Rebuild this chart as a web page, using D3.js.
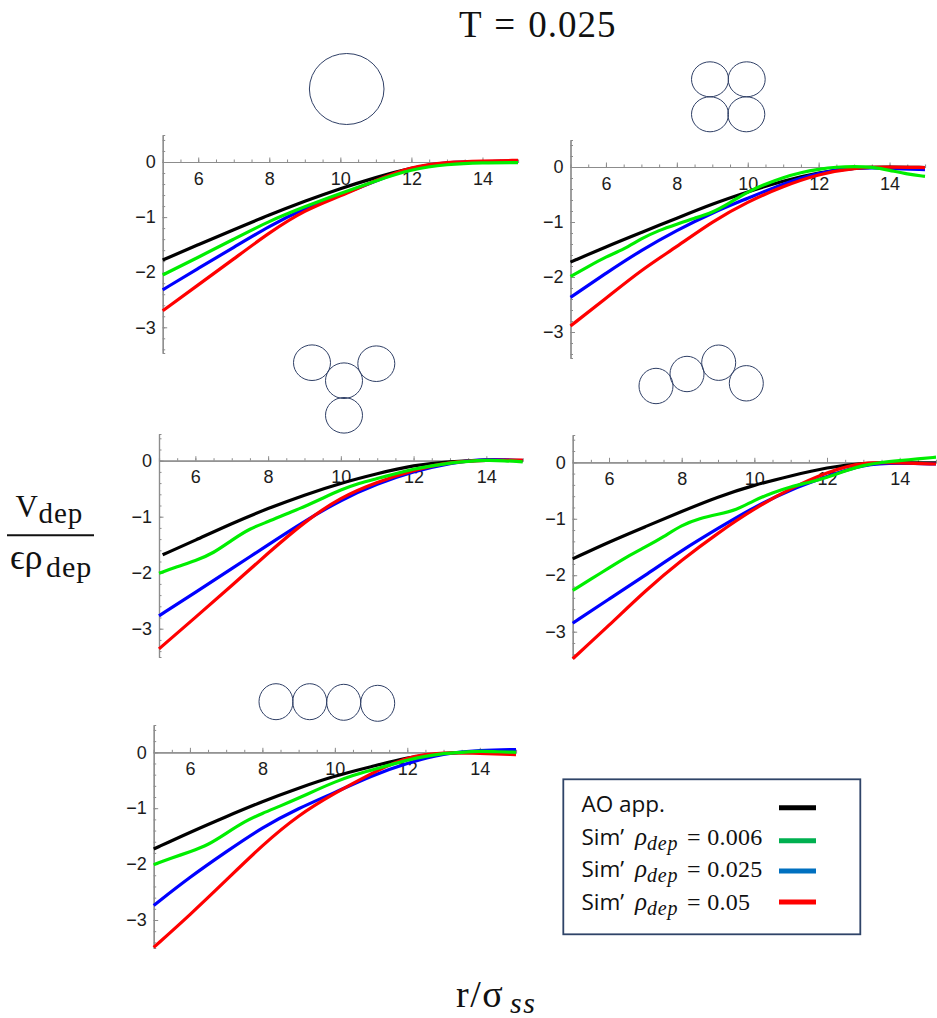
<!DOCTYPE html>
<html>
<head>
<meta charset="utf-8">
<script src="https://cdnjs.cloudflare.com/ajax/libs/d3/7.8.5/d3.min.js"></script>
<style>
  html, body { margin: 0; padding: 0; background: #fff; }
  svg { display: block; }
  .serif { font-family: "Liberation Serif", serif; fill: #111; }
  .tick text { font-family: "Liberation Sans", Arial, sans-serif; font-size: 18px; fill: #1c1c1c; }
  .legend-label { font-family: "Open Sans", sans-serif; font-size: 22.5px; fill: #111; }
</style>
</head>
<body>
<div class="chart"></div>
<script>
const width = 937;
const height = 1018;

// r/sigma sample points
const rCoarse = [5, 6, 7, 8, 9, 10, 11, 12, 13, 14, 15];
const rFine = [5, 5.5, 6, 6.5, 7, 7.5, 8, 8.5, 9, 9.5, 10, 10.5, 11, 11.5, 12, 12.5, 13, 13.5, 14, 14.5, 15];
const rBlack3 = [5.1, 6, 7, 8, 9, 10, 11, 12, 13, 14, 15];

const xTickLabels = [6, 8, 10, 12, 14];
const yTickLabels = [0, -1, -2, -3];

// panel 1: single sphere
const black1 = [-1.78, -1.50, -1.23, -0.96, -0.71, -0.48, -0.28, -0.10, -0.01, 0, 0.02];
const green1 = [-2.05, -1.73, -1.40, -1.07, -0.81, -0.57, -0.34, -0.13, -0.04, -0.01, -0.01];
const blue1 = [-2.32, -1.93, -1.55, -1.16, -0.84, -0.60, -0.34, -0.10, 0, 0.01, 0.01];
const red1 = [-2.70, -2.23, -1.76, -1.28, -0.87, -0.62, -0.33, -0.08, 0, 0.02, 0.03];

// panel 2: square
const black2 = [-1.73, -1.45, -1.19, -0.93, -0.67, -0.45, -0.25, -0.10, -0.01, 0, -0.01];
const green2 = [-1.99, -1.81, -1.63, -1.50, -1.30, -1.15, -1.04, -0.93, -0.83, -0.65, -0.45, -0.31, -0.19, -0.10, -0.04, 0, 0.01, 0, -0.06, -0.13, -0.17];
const blue2 = [-2.37, -1.93, -1.51, -1.15, -0.83, -0.57, -0.30, -0.10, -0.01, -0.02, -0.05];
const red2 = [-2.89, -2.39, -1.87, -1.45, -0.99, -0.63, -0.35, -0.13, -0.01, 0, -0.01];

// panel 3: Y shape
const black3 = [-1.68, -1.42, -1.12, -0.85, -0.61, -0.40, -0.23, -0.08, -0.01, 0.01, 0];
const green3 = [-2.01, -1.89, -1.79, -1.65, -1.42, -1.21, -1.09, -0.95, -0.82, -0.67, -0.52, -0.40, -0.32, -0.23, -0.15, -0.09, -0.04, -0.01, 0.01, 0, -0.02];
const blue3 = [-2.77, -2.35, -1.93, -1.50, -1.08, -0.70, -0.41, -0.19, -0.04, 0.04, 0];
const red3 = [-3.36, -2.80, -2.23, -1.65, -1.09, -0.65, -0.38, -0.17, -0.02, 0.01, 0.01];

// panel 4: bent chain
const black4 = [-1.71, -1.41, -1.14, -0.87, -0.61, -0.40, -0.24, -0.09, -0.01, -0.01, -0.01];
const green4 = [-2.27, -2.07, -1.87, -1.67, -1.50, -1.32, -1.11, -0.99, -0.92, -0.85, -0.67, -0.54, -0.43, -0.36, -0.27, -0.15, -0.05, 0, 0.03, 0.06, 0.09];
const blue4 = [-2.85, -2.42, -2.00, -1.56, -1.17, -0.79, -0.48, -0.25, -0.03, -0.01, -0.03];
const red4 = [-3.48, -2.89, -2.27, -1.73, -1.25, -0.82, -0.46, -0.17, 0.01, -0.01, -0.03];

// panel 5: straight chain
const black5 = [-1.73, -1.43, -1.15, -0.88, -0.64, -0.42, -0.26, -0.09, -0.01, 0, -0.01];
const green5 = [-2.01, -1.89, -1.78, -1.66, -1.45, -1.24, -1.09, -0.96, -0.82, -0.67, -0.53, -0.41, -0.32, -0.23, -0.14, -0.07, -0.02, 0, 0.02, 0.01, 0];
const blue5 = [-2.74, -2.23, -1.78, -1.34, -1.00, -0.72, -0.42, -0.19, -0.02, 0.04, 0.05];
const red5 = [-3.49, -2.91, -2.29, -1.66, -1.12, -0.73, -0.38, -0.07, 0, -0.02, -0.04];

const legendLabels = ["AO app.", "Sim\u2019 ", "Sim\u2019 ", "Sim\u2019 "];
const legendValues = ["", "= 0.006", "= 0.025", "= 0.05"];

const curveBlack = "#000000";
const curveGreen = "#00ee00";
const curveBlue = "#0000ff";
const curveRed = "#ff0000";
const legendColors = ["#000000", "#00b050", "#0070c0", "#ff0000"];

// pixel boxes of each small plot, and the bead sketches above them
const panels = [
  { left: 162.7, right: 518, zero: 162, minus3: 327.3, top: 135, bottom: 353,
    series: [[rCoarse, black1, curveBlack], [rCoarse, blue1, curveBlue], [rCoarse, red1, curveRed], [rCoarse, green1, curveGreen]],
    beads: [[346.7, 89, 37.3, 35.5]] },
  { left: 570.5, right: 925, zero: 167, minus3: 332, top: 140, bottom: 358,
    series: [[rCoarse, black2, curveBlack], [rCoarse, blue2, curveBlue], [rCoarse, red2, curveRed], [rFine, green2, curveGreen]],
    beads: [[710, 79.3, 18.5, 17.5], [746.7, 79.3, 18.5, 17.5], [710, 114.3, 18.5, 17.5], [746.3, 114.3, 18.5, 17.5]] },
  { left: 159, right: 522.7, zero: 460.7, minus3: 628.7, top: 434, bottom: 657,
    series: [[rBlack3, black3, curveBlack], [rCoarse, blue3, curveBlue], [rCoarse, red3, curveRed], [rFine, green3, curveGreen]],
    beads: [[312, 362.7, 18.5, 17.8], [376.3, 363.7, 18.5, 17.8], [344, 380.7, 18.5, 17.8], [344, 415.3, 18.5, 17.8]] },
  { left: 572.7, right: 936, zero: 462.3, minus3: 631.7, top: 435, bottom: 658,
    series: [[rCoarse, black4, curveBlack], [rCoarse, blue4, curveBlue], [rCoarse, red4, curveRed], [rFine, green4, curveGreen]],
    beads: [[656, 386, 17, 17.7], [687, 374, 17, 17.7], [718.7, 362.7, 17, 17.7], [746.3, 383.3, 17, 17.7]] },
  { left: 153.7, right: 516, zero: 752.3, minus3: 920, top: 725, bottom: 948,
    series: [[rCoarse, black5, curveBlack], [rCoarse, blue5, curveBlue], [rCoarse, red5, curveRed], [rFine, green5, curveGreen]],
    beads: [[276, 701.7, 17, 18], [309.7, 701.7, 17, 18], [343.7, 702.3, 17, 18], [377.7, 703.3, 17, 18]] }
];

const svg = d3.select(".chart").append("svg")
  .attr("width", width)
  .attr("height", height);

const axisColor = "#8c8c8c";

function styleAxis(g) {
  g.selectAll(".domain").attr("stroke", axisColor).attr("stroke-width", 1.2);
  g.selectAll(".tick line").attr("stroke", axisColor).attr("stroke-width", 1);
}

panels.forEach((p) => {
  const x = d3.scaleLinear().domain([5, 15]).range([p.left, p.right]);
  const y = d3.scaleLinear().domain([0, -3]).range([p.zero, p.minus3]);
  const yAxisScale = y.copy()
    .domain([y.invert(p.top), y.invert(p.bottom)])
    .range([p.top, p.bottom]);

  const g = svg.append("g");

  // minor ticks first, then the labelled ones
  g.append("g").attr("transform", `translate(0,${p.zero})`)
    .call(d3.axisBottom(x).tickValues(d3.range(5.5, 15, 0.5)).tickSize(-2.5).tickFormat(""))
    .call(styleAxis);
  g.append("g").attr("transform", `translate(0,${p.zero})`)
    .call(d3.axisBottom(x).tickValues(xTickLabels).tickSizeInner(-4.5).tickSizeOuter(0).tickPadding(10).tickFormat(d3.format("d")))
    .call(styleAxis);
  g.append("g").attr("transform", `translate(${p.left},0)`)
    .call(d3.axisLeft(yAxisScale).tickValues(d3.range(-3.4, 0.5, 0.2)).tickSize(-2.5).tickFormat(""))
    .call(styleAxis);
  g.append("g").attr("transform", `translate(${p.left},0)`)
    .call(d3.axisLeft(yAxisScale).tickValues(yTickLabels).tickSizeInner(-4.5).tickSizeOuter(0).tickPadding(7).tickFormat(d3.format("d")))
    .call(styleAxis);

  p.series.forEach(([rs, vs, color]) => {
    const line = d3.line()
      .x((d, i) => x(rs[i]))
      .y((d) => y(d))
      .curve(d3.curveBasis);
    g.append("path")
      .attr("d", line(vs))
      .attr("fill", "none")
      .attr("stroke", color)
      .attr("stroke-width", 3.2);
  });

  svg.append("g").selectAll("ellipse")
    .data(p.beads)
    .enter().append("ellipse")
    .attr("cx", (d) => d[0])
    .attr("cy", (d) => d[1])
    .attr("rx", (d) => d[2])
    .attr("ry", (d) => d[3])
    .attr("fill", "none")
    .attr("stroke", "#2f3f66")
    .attr("stroke-width", 1);
});

// Title
svg.append("text").attr("class", "serif")
  .attr("x", 459).attr("y", 37)
  .attr("font-size", 37)
  .attr("letter-spacing", 1)
  .attr("word-spacing", 2)
  .text("T = 0.025");

// y label, written as a fraction
svg.append("text").attr("class", "serif")
  .attr("x", 15.5).attr("y", 517).attr("font-size", 31).text("V");
svg.append("text").attr("class", "serif")
  .attr("x", 38.5).attr("y", 523).attr("font-size", 29).attr("letter-spacing", 1).text("dep");
svg.append("line")
  .attr("x1", 7).attr("x2", 94).attr("y1", 535.3).attr("y2", 535.3)
  .attr("stroke", "#111").attr("stroke-width", 2);
svg.append("text").attr("class", "serif")
  .attr("x", 10).attr("y", 569).attr("font-size", 36).text("\u03f5\u03c1");
svg.append("text").attr("class", "serif")
  .attr("x", 46).attr("y", 577).attr("font-size", 30).attr("letter-spacing", 1).text("dep");

// x label
svg.append("text").attr("class", "serif")
  .attr("x", 456).attr("y", 1007).attr("font-size", 38).attr("letter-spacing", 1.5).text("r/\u03c3");
svg.append("text").attr("class", "serif")
  .attr("x", 510).attr("y", 1013).attr("font-size", 30).attr("font-style", "italic").attr("letter-spacing", 1.5).text("ss");

// Legend
const legend = svg.append("g");
legend.append("rect")
  .attr("x", 563.3).attr("y", 779.3)
  .attr("width", 297).attr("height", 155)
  .attr("fill", "#fff")
  .attr("stroke", "#2f4468")
  .attr("stroke-width", 1.8);

const legendRows = d3.scaleOrdinal().domain(d3.range(4)).range([811.7, 845, 877, 910]);
const legendSwatch = d3.scaleOrdinal().domain(d3.range(4)).range([807.7, 840.7, 871, 902]);

legendLabels.forEach((label, i) => {
  const row = legend.append("g");
  row.append("text").attr("class", "legend-label")
    .attr("x", 581.5).attr("y", legendRows(i))
    .text(label);
  if (i > 0) {
    row.append("text").attr("class", "serif")
      .attr("x", 635).attr("y", legendRows(i))
      .attr("font-size", 25).attr("font-style", "italic").text("\u03c1");
    row.append("text").attr("class", "serif")
      .attr("x", 647).attr("y", legendRows(i) + 5)
      .attr("font-size", 20).attr("font-style", "italic").attr("letter-spacing", 0.8).text("dep");
    row.append("text").attr("class", "serif")
      .attr("x", 687).attr("y", legendRows(i))
      .attr("font-size", 24).attr("letter-spacing", 0.3).text(legendValues[i]);
  }
  row.append("line")
    .attr("x1", 779).attr("x2", 816)
    .attr("y1", legendSwatch(i)).attr("y2", legendSwatch(i))
    .attr("stroke", legendColors[i])
    .attr("stroke-width", 5);
});
</script>
</body>
</html>
